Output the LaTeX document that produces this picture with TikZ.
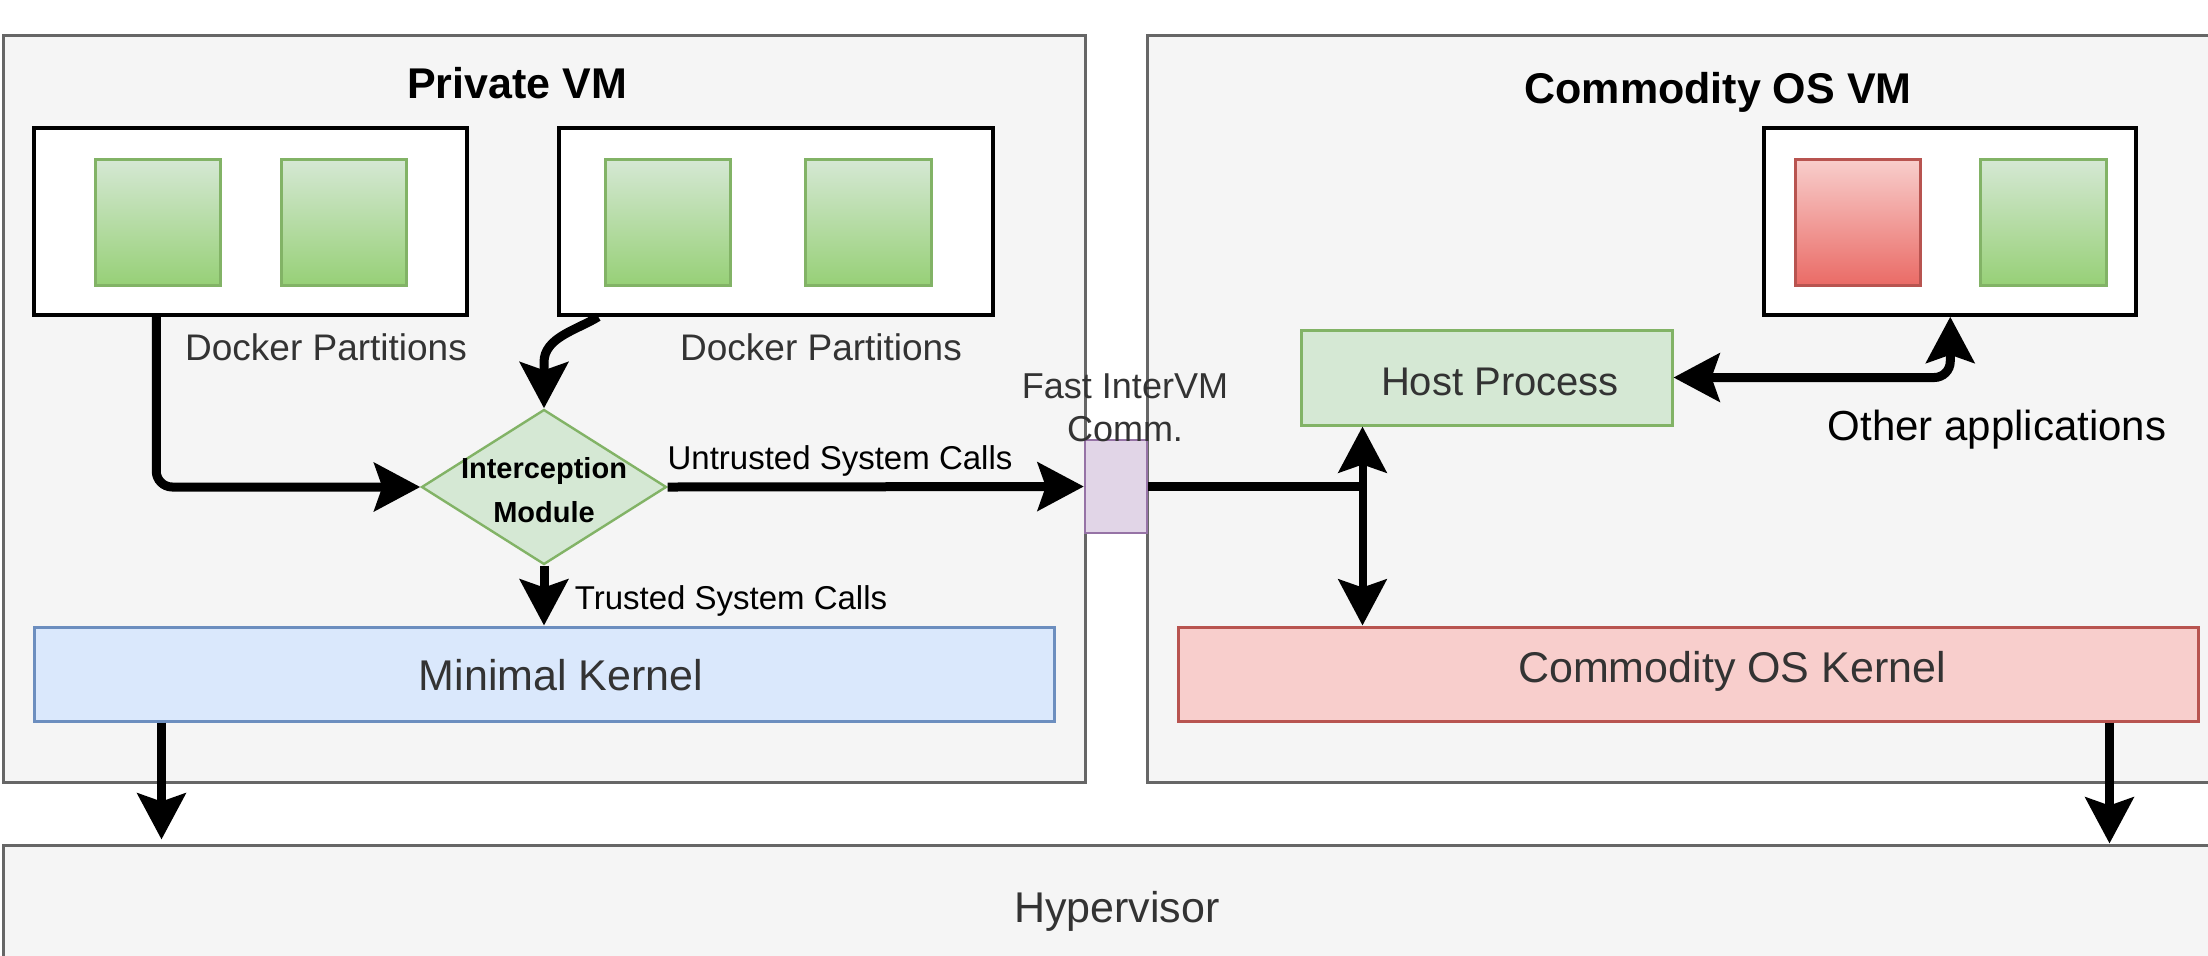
\documentclass[tikz,border=0pt]{standalone}
\usepackage{fontspec}
\setmainfont{Liberation Sans}
\usetikzlibrary{arrows.meta,shapes.geometric,fit,calc}

\definecolor{vmfill}{HTML}{F5F5F5}
\definecolor{vmdraw}{HTML}{666666}
\definecolor{gtop}{HTML}{D5E8D4}
\definecolor{gbot}{HTML}{97D077}
\definecolor{gdraw}{HTML}{82B366}
\definecolor{rtop}{HTML}{F8CECC}
\definecolor{rbot}{HTML}{EA6B66}
\definecolor{rdraw}{HTML}{B85450}
\definecolor{bfill}{HTML}{DAE8FC}
\definecolor{bdraw}{HTML}{6C8EBF}
\definecolor{pfill}{HTML}{E1D5E7}
\definecolor{pdraw}{HTML}{9673A6}
\definecolor{txt}{HTML}{333333}

\begin{document}
\begin{tikzpicture}[x=0.5pt,y=-0.5pt,
  >={Stealth[length=23pt,width=24pt,inset=4pt]},
  vm/.style={draw=vmdraw, fill=vmfill, line width=1.5pt, inner sep=0pt},
  ctr/.style={draw=black, fill=white, line width=1.75pt, inner sep=0pt},
  appg/.style={draw=gdraw, line width=1.5pt, top color=gtop, bottom color=gbot, inner sep=0pt},
  appr/.style={draw=rdraw, line width=1.5pt, top color=rtop, bottom color=rbot, inner sep=0pt},
  kernb/.style={draw=bdraw, fill=bfill, line width=1.5pt, inner sep=0pt},
  kernr/.style={draw=rdraw, fill=rtop, line width=1.5pt, inner sep=0pt},
  proc/.style={draw=gdraw, fill=gtop, line width=1.5pt, inner sep=0pt},
  flow/.style={line width=4.5pt, ->},
  link/.style={line width=4.5pt},
  lbl/.style={anchor=base, inner sep=0pt},
  big/.style={font=\fontsize{21.5}{25}\selectfont, text=txt},
  title/.style={font=\bfseries\fontsize{21.5}{25}\selectfont, text=black},
]
\useasboundingbox (0,0) rectangle (2208,955);
\fill[white] (0,0) rectangle (2208,955);
\clip (0,0) rectangle (2208,955);

% virtual machines and hypervisor
\node[vm, fit={(3,35) (1085,782)}] (pvm) {};
\node[vm, fit={(1147,35) (2289,782)}] (cvm) {};
\node[vm, fit={(3,845) (2231,975)}] (hyp) {};
\node[lbl, title] (tpvm) at (517,98) {Private VM};
\node[lbl, title] (tcvm) at (1718,103) {Commodity OS VM};
\node[lbl, big] (thyp) at (1117,922) {Hypervisor};

% containers in the private VM
\node[ctr, fit={(34,128) (467,315)}] (d1) {};
\node[ctr, fit={(559,128) (993,315)}] (d2) {};
\node[appg, fit={(95,159) (220,285)}] (d1a) {};
\node[appg, fit={(281,159) (406,285)}] (d1b) {};
\node[appg, fit={(605,159) (730,285)}] (d2a) {};
\node[appg, fit={(805,159) (931,285)}] (d2b) {};
\node[lbl, font=\fontsize{18.5}{22}\selectfont, text=txt] (td1) at (326,360) {Docker Partitions};
\node[lbl, font=\fontsize{18.5}{22}\selectfont, text=txt] (td2) at (821,360) {Docker Partitions};

% applications in the commodity VM
\node[ctr, fit={(1764,128) (2136,315)}] (apps) {};
\node[appr, fit={(1795,159) (1920,285)}] (appa) {};
\node[appg, fit={(1980,159) (2106,285)}] (appb) {};
\node[lbl, font=\fontsize{21}{25}\selectfont, text=black] (tapps) at (1997,440) {Other applications};

\node[proc, fit={(1301,330) (1672,425)}] (hp) {};
\node[lbl, font=\fontsize{20}{24}\selectfont, text=txt] (thp) at (1500,395) {Host Process};

% interception module
\node[diamond, draw=gdraw, fill=gtop, line width=1.2pt, inner sep=0pt,
      minimum width=122.5pt, minimum height=77.5pt] (icpt) at (544,487) {};
\node[inner sep=0pt, align=center, font=\bfseries\fontsize{14.5}{22}\selectfont] (ticpt) at (544,490) {Interception\\Module};

% kernels
\node[kernb, fit={(34,627) (1054,721)}] (mk) {};
\node[lbl, big] (tmk) at (561,690) {Minimal Kernel};
\node[kernr, fit={(1178,627) (2198,721)}] (ck) {};
\node[lbl, big] (tck) at (1732,682) {Commodity OS Kernel};

% inter-VM channel
\node[draw=pdraw, fill=pfill, line width=1.2pt, inner sep=0pt, fit={(1085,440) (1147,533)}] (ivm) {};
\node[inner sep=0pt, align=center, font=\fontsize{18}{21.5}\selectfont, text=txt] (tivm) at (1125,408) {Fast InterVM\\Comm.};

% connectors
\draw[flow, rounded corners=8pt] ($(d1.south west)+(124,0)$) |- (icpt.west);
\draw[flow] ($(d2.south west)+(41,0)$) to[out=212, in=90, looseness=0.9] ($(icpt.north)+(0,-46)$) -- (icpt.north);
\draw[flow] (icpt.east) -- (ivm.west);
\node[lbl, font=\fontsize{16.5}{20}\selectfont, text=black] (tun) at (840,469) {Untrusted System Calls};
\draw[flow] (icpt.south) -- (mk.north);
\node[lbl, font=\fontsize{16.5}{20}\selectfont, text=black] (ttr) at (731,609) {Trusted System Calls};

\coordinate (hpx) at ($(hp.south west)+(63,0)$);
\draw[link] (ivm.east) -- (ivm.east -| hpx);
\draw[line width=4pt, <->] (hpx) -- (hpx |- ck.north);

\coordinate (apx) at ($(apps.south west)+(188,0)$);
\draw[flow, <->, rounded corners=8pt] (hp.east) -| (apx);

\coordinate (mkx) at ($(mk.south west)+(129,0)$);
\coordinate (mkend) at ($(mkx)+(0,117)$);
\draw[flow] (mkx) -- (mkend);
\coordinate (ckx) at ($(ck.south west)+(933,0)$);
\draw[flow] (ckx) -- (ckx |- hyp.north);
\end{tikzpicture}
\end{document}
